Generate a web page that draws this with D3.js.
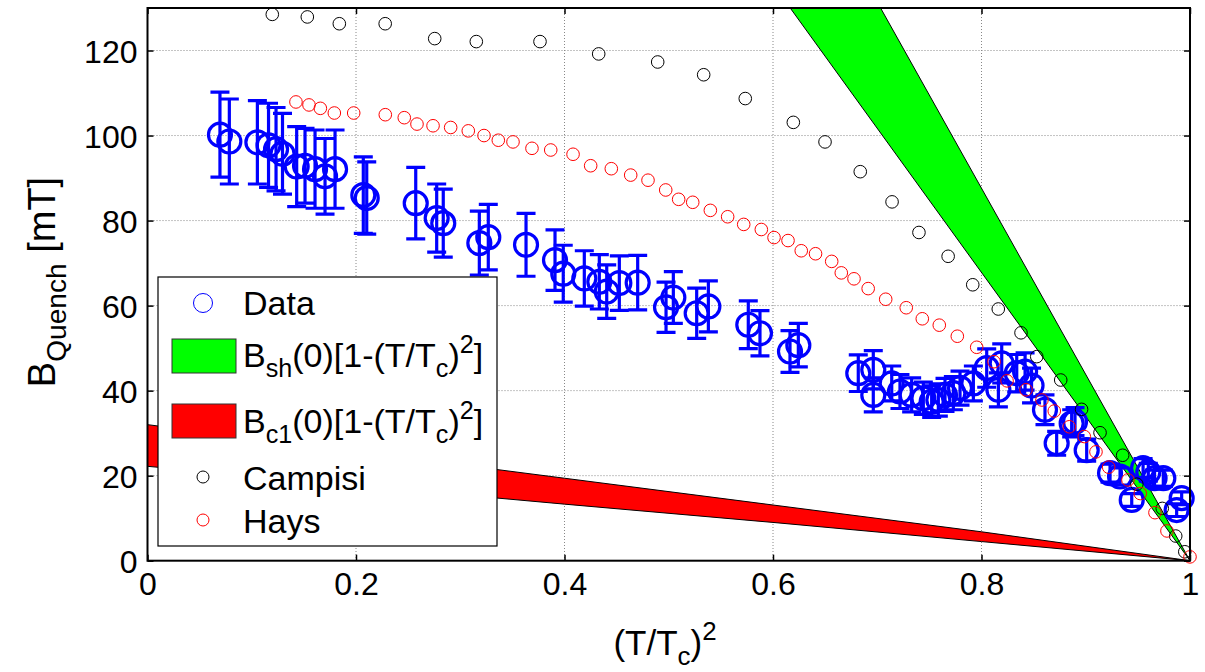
<!DOCTYPE html>
<html>
<head>
<meta charset="utf-8">
<script src="https://cdn.jsdelivr.net/npm/d3@7"></script>
<style>
  html, body { margin: 0; padding: 0; background: #fff; overflow: hidden; }
  svg { display: block; font-family: "Liberation Sans", Arial, sans-serif; }
  .grid line { stroke: #888; stroke-width: 1; stroke-dasharray: 1,2; }
</style>
</head>
<body>
<svg width="1205" height="672"></svg>
<script>
// measured quench field, (T/Tc)^2 and mT
const dataT = [0.0695, 0.0785, 0.1054, 0.1161, 0.1233, 0.1295, 0.1431, 0.1511, 0.1607, 0.1703,
  0.1799, 0.2070, 0.2103, 0.2573, 0.2774, 0.2837, 0.3183, 0.3269, 0.3631, 0.3909,
  0.3988, 0.4190, 0.4334, 0.4405, 0.4526, 0.4702, 0.4974, 0.5044, 0.5268, 0.5380,
  0.5763, 0.5875, 0.6163, 0.6243, 0.6818, 0.6962, 0.6962, 0.7139, 0.7218, 0.7330,
  0.7442, 0.7522, 0.7586, 0.7650, 0.7730, 0.7794, 0.7922, 0.8050, 0.8162, 0.8194,
  0.8338, 0.8418, 0.8480, 0.8609, 0.8721, 0.8865, 0.8897, 0.9009, 0.9233, 0.9329,
  0.9441, 0.9550, 0.9600, 0.9660, 0.9744, 0.9872, 0.9920];
const dataB = [100.2, 98.6, 98.4, 97.7, 96.8, 95.7, 92.7, 92.9, 92.1, 90.4,
  92.1, 86.0, 85.3, 84.1, 80.6, 79.4, 74.7, 76.1, 74.3, 70.7,
  67.5, 66.4, 65.6, 63.3, 65.3, 65.4, 59.6, 61.9, 58.2, 59.8,
  55.5, 53.5, 49.2, 50.7, 44.1, 44.9, 39.0, 41.7, 39.8, 39.0,
  38.2, 37.4, 37.8, 39.0, 39.4, 40.6, 41.7, 45.3, 40.2, 46.4,
  44.1, 44.5, 41.2, 35.5, 27.6, 32.3, 32.7, 26.0, 20.6, 19.8,
  14.3, 21.8, 20.8, 19.4, 19.4, 11.9, 14.7];
const dataErr = [10.0, 10.0, 9.8, 9.9, 9.8, 9.5, 9.4, 8.8, 9.2, 8.9,
  9.2, 9.0, 8.5, 8.4, 8.0, 8.0, 7.5, 7.7, 7.4, 7.1,
  6.7, 6.5, 6.4, 6.3, 6.4, 6.4, 5.9, 6.1, 5.9, 6.0,
  5.6, 5.3, 4.9, 5.1, 4.3, 4.5, 4.0, 4.1, 4.0, 4.0,
  3.8, 3.7, 3.8, 3.9, 3.9, 4.0, 4.1, 4.5, 4.0, 4.6,
  4.4, 4.4, 4.1, 3.5, 2.8, 3.2, 3.3, 2.6, 2.1, 2.0,
  1.5, 2.2, 2.1, 1.9, 1.9, 1.5, 1.5];

// Campisi
const campisiT = [0.1197, 0.1533, 0.1840, 0.2280, 0.2755, 0.3154, 0.3765, 0.4328, 0.4894, 0.5335,
  0.5734, 0.6195, 0.6499, 0.6837, 0.7142, 0.7400, 0.7680, 0.7916, 0.8161, 0.8379,
  0.8530, 0.8760, 0.8960, 0.9137, 0.9354, 0.9490, 0.9734, 0.9863, 0.9950];
const campisiB = [128.5, 127.9, 126.3, 126.3, 122.8, 122.1, 122.1, 119.2, 117.3, 114.3,
  108.7, 103.1, 98.5, 91.5, 84.4, 77.2, 71.6, 64.9, 59.2, 53.6,
  48.0, 42.5, 35.6, 30.1, 24.8, 18.0, 12.3, 5.8, 2.1];

// Hays
const haysT = [0.1424, 0.1549, 0.1658, 0.1792, 0.1978, 0.2281, 0.2463, 0.2585, 0.2739, 0.2908,
  0.3077, 0.3228, 0.3365, 0.3506, 0.3688, 0.3868, 0.4082, 0.4251, 0.4449, 0.4635,
  0.4801, 0.4971, 0.5095, 0.5230, 0.5399, 0.5565, 0.5719, 0.5888, 0.6010, 0.6144,
  0.6271, 0.6408, 0.6563, 0.6655, 0.6777, 0.6913, 0.7081, 0.7278, 0.7432, 0.7595,
  0.7768, 0.7954, 0.8120, 0.8245, 0.8427, 0.8580, 0.8698, 0.8842, 0.8986, 0.9098,
  0.9220, 0.9405, 0.9523, 0.9664, 0.9779, 1.0000];
const haysB = [107.9, 107.2, 106.4, 105.3, 105.3, 104.9, 104.2, 102.7, 102.3, 101.9,
  101.1, 100.0, 98.9, 98.5, 97.0, 96.6, 95.6, 92.9, 92.2, 90.7,
  89.5, 87.2, 85.0, 84.3, 82.4, 80.9, 79.1, 77.9, 76.0, 75.3,
  72.9, 72.2, 70.4, 67.7, 66.3, 64.0, 61.5, 59.5, 56.9, 55.4,
  52.8, 50.2, 46.8, 42.3, 40.2, 37.8, 35.2, 31.5, 29.2, 25.6,
  22.0, 19.0, 15.8, 11.3, 7.0, 0.9];

// Bsh and Bc1 bands (lower / upper edge)
const bshT = [0, 1];
const bshLo = [339, 0];
const bshHi = [438, 0];
const bc1T = [0, 0.4, 0.6, 0.8, 1];
const bc1Lo = [22.2, 13.3, 9.0, 4.5, 0];
const bc1Hi = [32.0, 19.4, 13.1, 6.8, 0];

const xTicks = [0, 0.2, 0.4, 0.6, 0.8, 1];
const yTicks = [0, 20, 40, 60, 80, 100, 120];

const svg = d3.select('svg');

const margin = { top: 8, right: 15, bottom: 111.3, left: 147.5 };
const width = +svg.attr('width');
const height = +svg.attr('height');
const innerWidth = width - margin.left - margin.right;
const innerHeight = height - margin.top - margin.bottom;

const xScale = d3.scaleLinear().domain([0, 1]).range([0, innerWidth]);
const yScale = d3.scaleLinear().domain([0, 130]).range([innerHeight, 0]);

const g = svg.append('g')
  .attr('transform', `translate(${margin.left},${margin.top})`);

g.append('clipPath').attr('id', 'plot-clip')
  .append('rect').attr('width', innerWidth).attr('height', innerHeight);

// dotted grid
g.append('g').attr('class', 'grid')
  .selectAll('line').data(xTicks.slice(1, -1)).enter().append('line')
  .attr('x1', d => xScale(d)).attr('x2', d => xScale(d))
  .attr('y1', 0).attr('y2', innerHeight);
g.append('g').attr('class', 'grid')
  .selectAll('line').data(yTicks.slice(1)).enter().append('line')
  .attr('x1', 0).attr('x2', innerWidth)
  .attr('y1', d => yScale(d)).attr('y2', d => yScale(d));

// bands
const band = (ts, lo, hi) => d3.area()
  .x((d, i) => xScale(ts[i]))
  .y0((d, i) => yScale(lo[i]))
  .y1((d, i) => yScale(hi[i]))(ts);

const bands = g.append('g').attr('clip-path', 'url(#plot-clip)');
bands.append('path').attr('d', band(bshT, bshLo, bshHi))
  .attr('fill', '#00ff00').attr('stroke', '#000').attr('stroke-width', 1);
bands.append('path').attr('d', band(bc1T, bc1Lo, bc1Hi))
  .attr('fill', '#ff0000').attr('stroke', '#000').attr('stroke-width', 1);

// data with error bars
const data = dataT.map((t, i) => ({ t, b: dataB[i], e: dataErr[i] }));
const capW = 9.5;
const eb = g.append('g').attr('stroke', '#0000ff').attr('stroke-width', 3.2).attr('fill', 'none');
eb.selectAll('path.bar').data(data).enter().append('path')
  .attr('class', 'bar')
  .attr('d', d => {
    const x = xScale(d.t), y0 = yScale(d.b - d.e), y1 = yScale(d.b + d.e);
    return `M${x},${y0}V${y1}M${x - capW},${y0}H${x + capW}M${x - capW},${y1}H${x + capW}`;
  });
eb.selectAll('circle').data(data).enter().append('circle')
  .attr('cx', d => xScale(d.t)).attr('cy', d => yScale(d.b)).attr('r', 11.5);

// literature points
g.append('g').attr('fill', 'none').attr('stroke', '#000').attr('stroke-width', 1)
  .selectAll('circle').data(campisiT).enter().append('circle')
  .attr('cx', d => xScale(d)).attr('cy', (d, i) => yScale(campisiB[i])).attr('r', 6.3);
g.append('g').attr('fill', 'none').attr('stroke', '#ff0000').attr('stroke-width', 1)
  .selectAll('circle').data(haysT).enter().append('circle')
  .attr('cx', d => xScale(d)).attr('cy', (d, i) => yScale(haysB[i])).attr('r', 6.3);

// axes, ticks pointing inward on all four sides
const fmt = d3.format('~g');
const xAxisG = g.append('g').attr('transform', `translate(0,${innerHeight})`)
  .call(d3.axisBottom(xScale).tickValues(xTicks).tickFormat(fmt)
    .tickSizeInner(-6).tickSizeOuter(0).tickPadding(12));
const yAxisG = g.append('g')
  .call(d3.axisLeft(yScale).tickValues(yTicks).tickFormat(fmt)
    .tickSizeInner(-6).tickSizeOuter(0).tickPadding(10));
[xAxisG, yAxisG].forEach(a => a
  .attr('font-family', '"Liberation Sans", Arial, sans-serif')
  .attr('font-size', 32));
g.append('g')
  .call(d3.axisTop(xScale).tickValues(xTicks).tickSizeInner(-6).tickSizeOuter(0))
  .selectAll('text').remove();
g.append('g').attr('transform', `translate(${innerWidth},0)`)
  .call(d3.axisRight(yScale).tickValues(yTicks).tickSizeInner(-6).tickSizeOuter(0))
  .selectAll('text').remove();
g.selectAll('.domain').remove();
g.selectAll('.tick line').attr('stroke', '#000').attr('stroke-width', 1.5);
yAxisG.selectAll('.tick text').attr('dy', '0.36em');

g.append('rect').attr('width', innerWidth).attr('height', innerHeight)
  .attr('fill', 'none').attr('stroke', '#000').attr('stroke-width', 2);

// text with sub/superscripts: each piece is its own <text>, laid out left to right
const richText = (parent, x, y, parts, size, anchor) => {
  const grp = parent.append('g').attr('transform', `translate(${x},${y})`);
  let cx = 0;
  parts.forEach(p => {
    const fs = p.sub || p.sup ? size * 0.74 : size;
    const dy = p.sub ? size * 0.28 : p.sup ? -size * 0.42 : 0;
    const t = grp.append('text').attr('x', cx).attr('y', dy)
      .attr('font-size', fs).text(p.s);
    cx += t.node().getComputedTextLength();
  });
  if (anchor === 'middle') grp.selectAll('text').attr('x', function () { return +this.getAttribute('x') - cx / 2; });
  return grp;
};

// axis labels
const yLabel = svg.append('g').attr('transform', 'translate(55,282) rotate(-90)');
richText(yLabel, 0, 0, [{ s: 'B' }, { s: 'Quench', sub: true }, { s: '\u00a0[mT]' }], 38, 'middle');
richText(svg, 665, 655, [{ s: '(T/T' }, { s: 'c', sub: true }, { s: ')' }, { s: '2', sup: true }], 35, 'middle');

// legend
const legend = svg.append('g');
legend.append('rect').attr('x', 158).attr('y', 277).attr('width', 339).attr('height', 269)
  .attr('fill', '#fff').attr('stroke', '#000').attr('stroke-width', 1.2);

const curve = sub => [{ s: 'B' }, { s: sub, sub: true }, { s: '(0)[1-(T/T' },
  { s: 'c', sub: true }, { s: ')' }, { s: '2', sup: true }, { s: ']' }];

legend.append('circle').attr('cx', 203).attr('cy', 303).attr('r', 9.5)
  .attr('fill', 'none').attr('stroke', '#0000ff').attr('stroke-width', 1);
richText(legend, 243, 315, [{ s: 'Data' }], 34);

legend.append('rect').attr('x', 172).attr('y', 339).attr('width', 64).attr('height', 34)
  .attr('fill', '#00ff00').attr('stroke', '#333').attr('stroke-width', 1);
richText(legend, 243, 367, curve('sh'), 34);

legend.append('rect').attr('x', 172).attr('y', 404).attr('width', 64).attr('height', 34)
  .attr('fill', '#ff0000').attr('stroke', '#333').attr('stroke-width', 1);
richText(legend, 243, 433, curve('c1'), 34);

legend.append('circle').attr('cx', 203).attr('cy', 477).attr('r', 6)
  .attr('fill', 'none').attr('stroke', '#000').attr('stroke-width', 1);
richText(legend, 243, 490, [{ s: 'Campisi' }], 34);

legend.append('circle').attr('cx', 203).attr('cy', 520).attr('r', 6)
  .attr('fill', 'none').attr('stroke', '#ff0000').attr('stroke-width', 1);
richText(legend, 243, 533, [{ s: 'Hays' }], 34);
</script>
</body>
</html>
